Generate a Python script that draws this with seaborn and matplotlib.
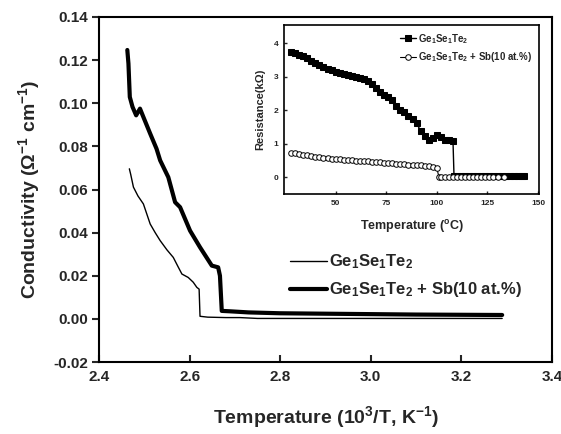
import matplotlib
matplotlib.use('Agg')
import matplotlib.pyplot as plt
import seaborn as sns

# ---------------- data ----------------
thin_label = "Ge$_1$Se$_1$Te$_2$"
thick_label = "Ge$_1$Se$_1$Te$_2$ + Sb(10 at.%)"

thin_x = [2.467, 2.470, 2.476, 2.486, 2.498, 2.513, 2.524, 2.535, 2.550, 2.564, 2.575, 2.583,
          2.597, 2.608, 2.616, 2.621, 2.623, 2.640, 2.680, 2.711, 2.750, 2.900, 3.100, 3.290]
thin_y = [0.0696, 0.0670, 0.0611, 0.0570, 0.0533, 0.0440, 0.0400, 0.0363, 0.0320, 0.0285, 0.0240, 0.0208,
          0.0192, 0.0170, 0.0146, 0.0138, 0.0012, 0.0008, 0.0006, 0.0006, 0.0002, 0.0002, 0.0002, 0.0002]

thick_x = [2.4625, 2.465, 2.468, 2.474, 2.482, 2.4905, 2.498, 2.513, 2.527, 2.535, 2.553, 2.568,
           2.579, 2.601, 2.623, 2.649, 2.663, 2.667, 2.671, 2.690, 2.730, 2.800, 2.900, 3.000,
           3.100, 3.290]
thick_y = [0.1247, 0.1184, 0.1029, 0.0983, 0.0944, 0.0975, 0.0936, 0.0859, 0.0789, 0.0735, 0.0657, 0.0541,
           0.0518, 0.0409, 0.0332, 0.0247, 0.0239, 0.0200, 0.0037, 0.0035, 0.0030, 0.0026, 0.0024, 0.0022,
           0.0020, 0.0018]

sq_T = [28, 30, 32, 34, 36, 38, 40, 42, 44, 46, 48, 50, 52, 54, 56, 58, 60, 62, 64, 66, 68, 70,
        72, 74, 76, 78, 80, 82, 84, 86, 88, 90, 92, 94, 96, 98, 100, 102, 104, 106, 108, 108.5,
        110, 112, 114, 116, 118, 120, 122, 124, 126, 128, 130, 132, 134, 136, 138, 140, 142, 143]
sq_R = [3.74, 3.70, 3.66, 3.62, 3.55, 3.47, 3.41, 3.35, 3.29, 3.24, 3.20, 3.16, 3.13, 3.10, 3.07, 3.04,
        3.01, 2.98, 2.94, 2.88, 2.78, 2.66, 2.56, 2.47, 2.39, 2.30, 2.12, 2.02, 1.95, 1.84, 1.75, 1.62,
        1.38, 1.22, 1.12, 1.18, 1.25, 1.20, 1.12, 1.10, 1.08, 0.05,
        0.05, 0.05, 0.05, 0.05, 0.05, 0.05, 0.05, 0.05, 0.05, 0.05, 0.05, 0.05, 0.05, 0.05, 0.05, 0.05,
        0.05, 0.05]

ci_T = [28, 30, 32, 34, 36, 38, 40, 42, 44, 46, 48, 50, 52, 54, 56, 58, 60, 62, 64, 66, 68, 70,
        72, 74, 76, 78, 80, 82, 84, 86, 88, 90, 92, 94, 96, 98, 100, 101, 102, 104, 106, 108,
        110, 112, 114, 116, 118, 120, 122, 124, 126, 128, 130, 133]
ci_R = [0.74, 0.72, 0.70, 0.68, 0.66, 0.64, 0.62, 0.60, 0.58, 0.57, 0.56, 0.55, 0.54, 0.53, 0.52, 0.51,
        0.50, 0.49, 0.49, 0.48, 0.47, 0.46, 0.45, 0.44, 0.43, 0.42, 0.41, 0.40, 0.39, 0.38, 0.37, 0.37,
        0.36, 0.35, 0.33, 0.31, 0.28, 0.02, 0.0, 0.0, 0.0, 0.0,
        0.0, 0.0, 0.0, 0.0, 0.0, 0.0, 0.0, 0.0, 0.0, 0.0, 0.0, 0.0]

main_xticks = [2.4, 2.6, 2.8, 3.0, 3.2, 3.4]
main_yticks = [-0.02, 0.00, 0.02, 0.04, 0.06, 0.08, 0.10, 0.12, 0.14]
inset_xticks = [50, 75, 100, 125, 150]
inset_yticks = [0, 1, 2, 3, 4]

# ---------------- style ----------------
sns.set_theme(style='white')
plt.rcParams['font.family'] = ['Liberation Sans', 'DejaVu Sans']
plt.rcParams['font.weight'] = 'bold'
plt.rcParams['axes.labelweight'] = 'bold'
plt.rcParams['mathtext.fontset'] = 'custom'
plt.rcParams['mathtext.rm'] = 'Liberation Sans:bold'
plt.rcParams['mathtext.bf'] = 'Liberation Sans:bold'
plt.rcParams['mathtext.it'] = 'Liberation Sans:bold'
plt.rcParams['mathtext.default'] = 'rm'

fig = plt.figure(figsize=(5.61, 4.34), dpi=100)
fig.patch.set_facecolor('white')

# ---------------- main axes ----------------
ax = fig.add_axes([99/561, 1-362/434, 453/561, 345/434])
sns.lineplot(x=thin_x, y=thin_y, ax=ax, color='black', lw=1.0, sort=False,
             estimator=None, label=thin_label)
sns.lineplot(x=thick_x, y=thick_y, ax=ax, color='black', lw=3.0, sort=False,
             estimator=None, label=thick_label)
ax.set_xlim(2.4, 3.4)
ax.set_ylim(-0.02, 0.14)
ax.set_xticks(main_xticks)
ax.set_xticklabels([f"{v:.1f}" for v in main_xticks])
ax.set_yticks(main_yticks)
ax.set_yticklabels([f"{v:.2f}" for v in main_yticks])
ax.tick_params(axis='x', direction='in', length=5, width=1.5, labelsize=11, pad=6)
ax.tick_params(axis='y', direction='out', length=5, width=1.5, labelsize=11, pad=3, left=True)
ax.tick_params(axis='x', bottom=True)
for s in ax.spines.values():
    s.set_linewidth(1.5)
    s.set_color('black')
ax.set_xlabel("Temperature (10$^3$/T, K$^{-1}$)", fontsize=14, labelpad=14)
ax.set_ylabel("Conductivity (Ω$^{-1}$ cm$^{-1}$)", fontsize=14, labelpad=8)
leg = ax.legend(loc='center left', bbox_to_anchor=(290/561, 1-276/434),
                bbox_transform=fig.transFigure, frameon=False, fontsize=12,
                handlelength=2.2, handletextpad=0.15, labelspacing=0.55,
                borderpad=0, borderaxespad=0)

# ---------------- inset ----------------
axin = fig.add_axes([284/561, 1-194/434, 255/561, 169/434])
axin.set_facecolor('white')
sns.lineplot(x=sq_T, y=sq_R, ax=axin, color='black', lw=1.0, sort=False, estimator=None,
             marker='s', markersize=4.5, markerfacecolor='black', markeredgecolor='black',
             label="Ge$_1$Se$_1$Te$_2$")
sns.lineplot(x=ci_T, y=ci_R, ax=axin, color='black', lw=0.8, sort=False, estimator=None,
             marker='o', markersize=4, markerfacecolor='white', markeredgecolor='black',
             markeredgewidth=0.7, label="Ge$_1$Se$_1$Te$_2$ + Sb(10 at.%)")
axin.set_xlim(24.5, 150.5)
axin.set_ylim(-0.5, 4.55)
axin.set_xticks(inset_xticks)
axin.set_yticks(inset_yticks)
axin.tick_params(axis='both', direction='in', length=2.5, width=1, labelsize=6, pad=4,
                 bottom=True, left=True)
for s in axin.spines.values():
    s.set_linewidth(1.2)
    s.set_color('black')
axin.set_xlabel("Temperature ($^{o}$C)", fontsize=9, labelpad=8)
axin.set_ylabel("Resistance(kΩ)", fontsize=8, labelpad=6)
axin.legend(loc='upper right', frameon=False, fontsize=7, handlelength=1.6,
            handletextpad=0.2, labelspacing=0.5, borderpad=0.5, borderaxespad=0.2)

fig.savefig('out.png', dpi=100, facecolor='white')
